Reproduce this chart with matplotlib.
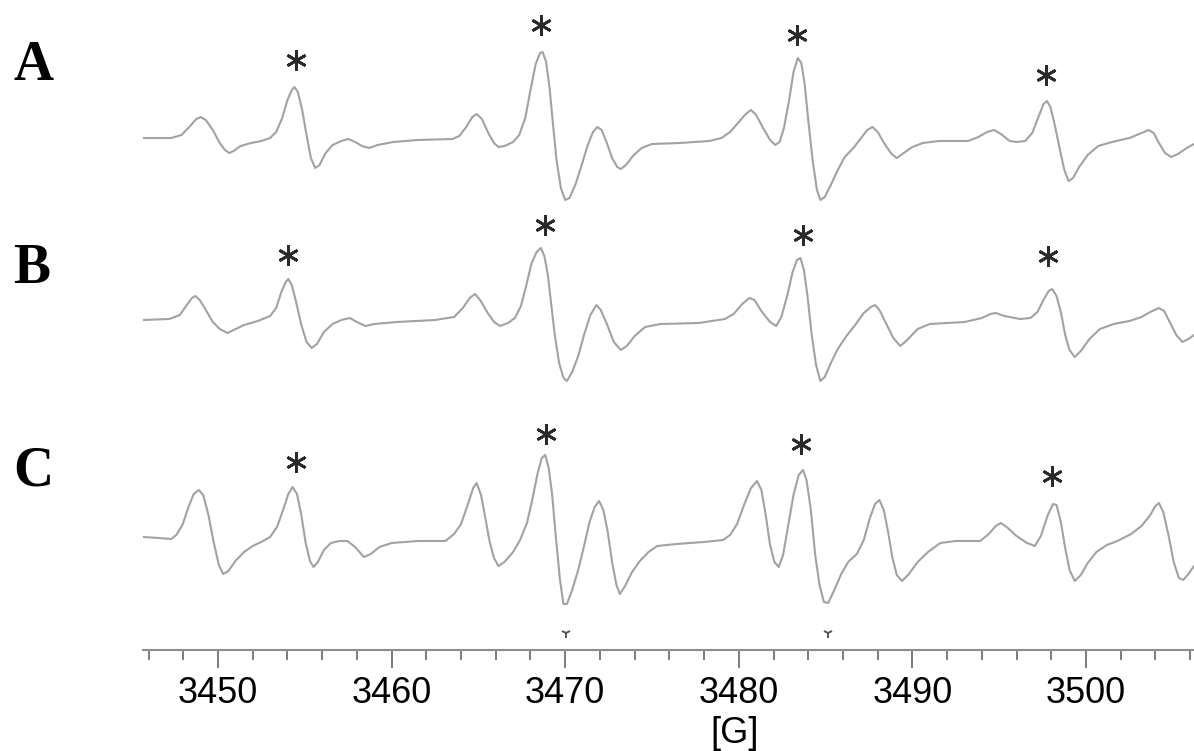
import matplotlib
matplotlib.use('Agg')
import matplotlib.pyplot as plt
import numpy as np

# field positions [G] and signal (arbitrary units)
field_A = [3445.68, 3447.3, 3447.9, 3448.4, 3448.75, 3449.0, 3449.3, 3449.7, 3450.1, 3450.4,
           3450.65, 3450.9, 3451.3, 3451.9, 3452.5, 3453.0, 3453.35, 3453.7, 3454.0, 3454.25,
           3454.4, 3454.6, 3454.85, 3455.1, 3455.35, 3455.6, 3455.85, 3456.2, 3456.6, 3457.1,
           3457.5, 3457.9, 3458.3, 3458.7, 3459.2, 3460.1, 3461.5, 3463.5, 3463.9, 3464.3,
           3464.65, 3464.9, 3465.2, 3465.6, 3465.9, 3466.15, 3466.5, 3467.0, 3467.35, 3467.7,
           3468.0, 3468.3, 3468.55, 3468.7, 3468.9, 3469.1, 3469.3, 3469.5, 3469.75, 3470.0,
           3470.25, 3470.6, 3470.95, 3471.3, 3471.6, 3471.85, 3472.1, 3472.4, 3472.7, 3473.0,
           3473.2, 3473.5, 3473.9, 3474.4, 3475.0, 3476.6, 3478.3, 3479.0, 3479.5, 3480.0,
           3480.4, 3480.7, 3481.0, 3481.4, 3481.8, 3482.1, 3482.35, 3482.6, 3482.9, 3483.15,
           3483.4, 3483.6, 3483.8, 3484.0, 3484.25, 3484.5, 3484.7, 3484.95, 3485.3, 3485.7,
           3486.1, 3486.6, 3487.0, 3487.4, 3487.7, 3488.0, 3488.4, 3488.8, 3489.1, 3489.5,
           3490.0, 3490.6, 3491.5, 3493.2, 3493.8, 3494.3, 3494.7, 3495.1, 3495.6, 3496.0,
           3496.5, 3496.9, 3497.3, 3497.55, 3497.75, 3497.95, 3498.2, 3498.5, 3498.75, 3499.0,
           3499.25, 3499.6, 3500.1, 3500.7, 3501.5, 3502.5, 3503.2, 3503.6, 3503.9, 3504.2,
           3504.55, 3504.9, 3505.3, 3505.8, 3506.22]
signal_A = [2, 2, 5, 14, 21, 23, 20, 10, -3, -10,
            -13, -11, -6, -3, -1, 2, 8, 22, 40, 50,
            53, 48, 30, 5, -18, -28, -25, -13, -5, -1,
            1, -2, -6, -8, -5, -2, 0, 1, 4, 13,
            23, 26, 21, 6, -3, -7, -6, -2, 5, 22,
            50, 76, 87, 88, 78, 52, 15, -20, -48, -60,
            -58, -44, -25, -5, 8, 13, 10, -3, -18, -27,
            -29, -25, -16, -8, -4, -3, -1, 2, 8, 18,
            26, 30, 25, 12, 0, -5, -2, 12, 40, 68,
            82, 77, 55, 20, -20, -50, -60, -57, -45, -30,
            -17, -8, 1, 10, 13, 8, -4, -14, -18, -13,
            -7, -3, -1, -1, 3, 8, 10, 6, -1, -2,
            -1, 7, 25, 36, 39, 33, 15, -10, -30, -41,
            -38, -27, -15, -6, -2, 2, 7, 10, 7, -3,
            -13, -17, -14, -8, -4]

field_B = [3445.68, 3447.2, 3447.8, 3448.2, 3448.5, 3448.7, 3448.95, 3449.3, 3449.7, 3450.1,
           3450.55, 3450.9, 3451.5, 3452.3, 3453.0, 3453.35, 3453.65, 3453.9, 3454.05, 3454.25,
           3454.5, 3454.8, 3455.1, 3455.4, 3455.7, 3456.1, 3456.6, 3457.1, 3457.6, 3458.0,
           3458.5, 3459.0, 3460.3, 3462.5, 3463.6, 3464.1, 3464.5, 3464.8, 3465.1, 3465.5,
           3465.9, 3466.25, 3466.7, 3467.1, 3467.45, 3467.75, 3468.05, 3468.35, 3468.6, 3468.8,
           3469.0, 3469.2, 3469.4, 3469.65, 3469.9, 3470.1, 3470.4, 3470.75, 3471.1, 3471.45,
           3471.8, 3472.05, 3472.4, 3472.8, 3473.2, 3473.55, 3474.0, 3474.6, 3475.5, 3477.7,
           3479.2, 3479.7, 3480.2, 3480.6, 3480.9, 3481.3, 3481.8, 3482.15, 3482.45, 3482.8,
           3483.1, 3483.35, 3483.55, 3483.75, 3483.95, 3484.2, 3484.45, 3484.7, 3484.95, 3485.3,
           3485.7, 3486.2, 3486.7, 3487.2, 3487.6, 3487.85, 3488.1, 3488.5, 3488.9, 3489.3,
           3489.7, 3490.3, 3491.0, 3493.0, 3494.0, 3494.5, 3494.8, 3495.3, 3496.2, 3496.8,
           3497.2, 3497.55, 3497.85, 3498.05, 3498.3, 3498.55, 3498.8, 3499.05, 3499.35, 3499.7,
           3500.2, 3500.8, 3501.6, 3502.5, 3503.2, 3503.7, 3504.2, 3504.5, 3504.85, 3505.2,
           3505.55, 3505.9, 3506.22]
signal_B = [0, 1, 5, 15, 22, 24, 20, 10, -2, -9,
            -13, -10, -5, -1, 4, 12, 28, 38, 41, 35,
            18, -5, -22, -28, -24, -12, -4, 0, 2, -2,
            -6, -4, -2, 0, 3, 12, 22, 26, 20, 8,
            -2, -6, -3, 2, 14, 34, 56, 68, 72, 64,
            45, 15, -15, -43, -58, -61, -52, -36, -14, 5,
            15, 10, -4, -22, -30, -26, -16, -7, -4, -3,
            1, 6, 16, 22, 20, 9, -2, -6, 3, 25,
            48, 60, 62, 50, 25, -15, -45, -61, -57, -43,
            -29, -16, -5, 7, 13, 15, 10, -4, -18, -26,
            -20, -9, -4, -2, 2, 6, 7, 4, 1, 2,
            8, 20, 29, 31, 24, 8, -15, -30, -37, -31,
            -19, -9, -4, -1, 3, 8, 12, 9, -3, -15,
            -22, -19, -15]

field_C = [3445.68, 3446.6, 3447.3, 3447.6, 3447.95, 3448.3, 3448.6, 3448.9, 3449.15, 3449.45,
           3449.75, 3450.05, 3450.3, 3450.6, 3451.0, 3451.5, 3452.0, 3452.6, 3453.0, 3453.4,
           3453.75, 3454.05, 3454.3, 3454.55, 3454.8, 3455.05, 3455.3, 3455.5, 3455.75, 3456.1,
           3456.5, 3457.0, 3457.45, 3457.9, 3458.4, 3458.8, 3459.3, 3460.0, 3461.5, 3463.1,
           3463.6, 3464.0, 3464.4, 3464.7, 3464.9, 3465.15, 3465.4, 3465.65, 3465.9, 3466.15,
           3466.5, 3467.0, 3467.4, 3467.8, 3468.1, 3468.4, 3468.65, 3468.85, 3469.05, 3469.25,
           3469.45, 3469.7, 3469.9, 3470.1, 3470.4, 3470.75, 3471.1, 3471.4, 3471.7, 3471.95,
           3472.2, 3472.45, 3472.7, 3472.95, 3473.15, 3473.45, 3473.85, 3474.3, 3474.8, 3475.3,
           3476.4, 3478.0, 3479.1, 3479.5, 3479.9, 3480.3, 3480.7, 3481.05, 3481.3, 3481.55,
           3481.8, 3482.05, 3482.3, 3482.55, 3482.85, 3483.15, 3483.45, 3483.7, 3483.9, 3484.15,
           3484.4, 3484.65, 3484.9, 3485.15, 3485.5, 3485.9, 3486.3, 3486.8, 3487.2, 3487.55,
           3487.85, 3488.1, 3488.35, 3488.6, 3488.85, 3489.1, 3489.4, 3489.8, 3490.3, 3490.9,
           3491.6, 3492.5, 3493.9, 3494.4, 3494.8, 3495.1, 3495.5, 3496.0, 3496.6, 3497.05,
           3497.4, 3497.8, 3498.1, 3498.3, 3498.55, 3498.8, 3499.05, 3499.35, 3499.7, 3500.1,
           3500.6, 3501.2, 3501.8, 3502.6, 3503.2, 3503.7, 3504.0, 3504.2, 3504.45, 3504.75,
           3505.05, 3505.35, 3505.6, 3505.9, 3506.22]
signal_C = [3, 2, 1, 5, 15, 33, 46, 50, 45, 25,
            -2, -25, -34, -31, -21, -12, -6, -1, 3, 13,
            30, 46, 53, 46, 25, -3, -21, -27, -22, -10,
            -3, -1, -1, -7, -17, -14, -7, -3, -1, -1,
            6, 16, 36, 52, 57, 45, 22, -2, -18, -26,
            -22, -12, 0, 17, 40, 66, 82, 85, 72, 45,
            5, -40, -64, -64, -50, -30, -5, 18, 33, 39,
            30, 8, -22, -45, -54, -46, -32, -21, -12, -6,
            -4, -2, 0, 5, 16, 35, 52, 59, 50, 25,
            -5, -22, -27, -15, 15, 45, 65, 70, 60, 30,
            -15, -45, -62, -63, -50, -34, -22, -14, 0, 22,
            36, 40, 30, 8, -18, -35, -41, -34, -22, -12,
            -3, -1, -1, 6, 14, 17, 12, 4, -3, -6,
            4, 25, 36, 35, 18, -8, -30, -41, -35, -23,
            -12, -5, -1, 6, 14, 25, 34, 37, 28, 5,
            -22, -38, -40, -34, -26]

# asterisk marks: field and height above each trace baseline
star_field_A = [3454.49, 3468.61, 3483.35, 3497.70]
star_height_A = [80, 115, 105, 65]
star_field_B = [3454.03, 3468.84, 3483.70, 3497.81]
star_height_B = [65, 95, 85, 64]
star_field_C = [3454.49, 3468.89, 3483.58, 3498.04]
star_height_C = [78, 106, 96, 64]

# little field markers above the axis
marker_field = [3470.05, 3485.14]

major_ticks = [3450, 3460, 3470, 3480, 3490, 3500]
minor_ticks = np.arange(3446, 3507, 2)

W, H = 1194, 751
fig = plt.figure(figsize=(W / 100, H / 100), dpi=100)
ax = fig.add_axes([143 / W, (H - 650) / H, (W - 143) / W, 650 / H])

line_col = '#a2a2a2'
star_col = '#2a2a2a'
traces = [(field_A, signal_A, star_field_A, star_height_A, 510, 'A', 80),
          (field_B, signal_B, star_field_B, star_height_B, 330, 'B', 283),
          (field_C, signal_C, star_field_C, star_height_C, 110, 'C', 485)]

for fx, sy, sf, sh, base, lab, lab_y in traces:
    ax.plot(fx, np.array(sy) + base, color=line_col, lw=1.5,
            solid_joinstyle='round', solid_capstyle='round')
    ax.plot(sf, np.array(sh) + base, linestyle='none', marker=(6, 2, 0),
            markersize=15, markeredgewidth=2.0, color=star_col)
    fig.text(13 / W, (H - lab_y) / H, lab, fontsize=40, fontweight='bold',
             family='Liberation Serif', va='baseline', ha='left')

ax.plot(marker_field, [17, 17], linestyle='none', marker='1', markersize=7,
        markeredgewidth=1.4, color='#555555')

ax.set_xlim(3445.68, 3506.22)
ax.set_ylim(0, 650)
for s in ['left', 'right', 'top']:
    ax.spines[s].set_visible(False)
ax.spines['bottom'].set_color('#8c8c8c')
ax.spines['bottom'].set_linewidth(1.5)
ax.set_yticks([])
ax.set_xticks(major_ticks)
ax.set_xticks(minor_ticks, minor=True)
ax.set_xticklabels([str(t) for t in major_ticks], fontsize=26, family='Liberation Sans')
ax.tick_params(axis='x', which='major', direction='out', length=13, width=1.2,
               color='#666666', pad=6)
ax.tick_params(axis='x', which='minor', direction='out', length=7, width=1.2,
               color='#666666')
ax.set_xlabel('[G]', fontsize=26, family='Liberation Sans')
ax.xaxis.set_label_coords((735 - 143) / (W - 143), -0.102)
ax.xaxis.label.set_va('top')

fig.savefig('out.png', dpi=100)
